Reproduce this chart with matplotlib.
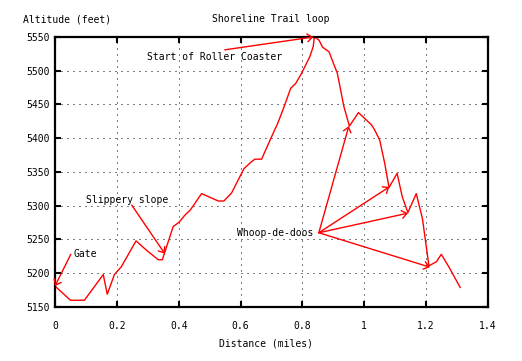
import matplotlib
matplotlib.use('Agg')
import matplotlib.pyplot as plt

# trail profile
dist = [0.000, 0.050, 0.095, 0.156, 0.169, 0.192, 0.215, 0.262, 0.296, 0.334,
        0.347, 0.382, 0.402, 0.420, 0.438, 0.474, 0.528, 0.546, 0.571, 0.611,
        0.630, 0.646, 0.668, 0.698, 0.720, 0.741, 0.762, 0.778, 0.797, 0.824,
        0.835, 0.838, 0.841, 0.854, 0.865, 0.886, 0.913, 0.934, 0.952, 0.981,
        1.002, 1.023, 1.034, 1.050, 1.066, 1.080, 1.106, 1.123, 1.141, 1.168,
        1.188, 1.209, 1.233, 1.249, 1.274, 1.310]
alt = [5181, 5160, 5160, 5198, 5169, 5198, 5210, 5248, 5234, 5220,
       5220, 5269, 5276, 5286, 5294, 5318, 5307, 5307, 5319, 5355,
       5363, 5369, 5369, 5400, 5422, 5447, 5474, 5481, 5496, 5521,
       5536, 5548, 5550, 5545, 5535, 5528, 5496, 5447, 5418, 5438,
       5429, 5420, 5412, 5397, 5363, 5327, 5348, 5313, 5290, 5318,
       5281, 5211, 5217, 5228, 5209, 5179]

xticks = [0, 0.2, 0.4, 0.6, 0.8, 1.0, 1.2, 1.4]
xlabels = ['0', '0.2', '0.4', '0.6', '0.8', '1', '1.2', '1.4']
yticks = [5150, 5200, 5250, 5300, 5350, 5400, 5450, 5500, 5550]

# labels: text, position, alignment
labels = [('Gate', 0.061, 5228, 'left'),
          ('Slippery slope', 0.099, 5308, 'left'),
          ('Start of Roller Coaster', 0.297, 5520, 'left'),
          ('Whoop-de-doos', 0.587, 5260, 'left')]

# arrows: (start, end)
arrows = [((0.051, 5228), (0.0, 5181)),
          ((0.248, 5301), (0.355, 5229)),
          ((0.549, 5531), (0.835, 5550)),
          ((0.853, 5260), (0.950, 5418)),
          ((0.853, 5260), (1.081, 5328)),
          ((0.853, 5260), (1.141, 5289)),
          ((0.853, 5260), (1.212, 5209))]

plt.rcParams['font.family'] = ['DejaVu Sans Mono']
fs = 7

fig = plt.figure(figsize=(5.22, 3.61), dpi=100)
W, H = 522, 361
ax = fig.add_axes([55 / W, 1 - 307 / H, (488 - 55) / W, (307 - 37) / H])

ax.plot(dist, alt, color='red', lw=1)

for (x0, y0), (x1, y1) in arrows:
    ax.annotate('', xy=(x1, y1), xytext=(x0, y0),
                arrowprops=dict(arrowstyle='->,head_length=0.35,head_width=0.28',
                                color='red', lw=1, shrinkA=0, shrinkB=0,
                                mutation_scale=10))

for txt, x, y, ha in labels:
    ax.text(x, y, txt, ha=ha, va='center', fontsize=fs, color='black')

ax.set_xlim(0, 1.4)
ax.set_ylim(5150, 5550)
ax.set_xticks(xticks)
ax.set_xticklabels(xlabels)
ax.set_yticks(yticks)
ax.grid(True, color='black', lw=0.72, ls=(0, (1, 5)))
ax.tick_params(direction='in', length=4, width=1.5, top=True, right=True,
               labelsize=fs)
ax.tick_params(axis='x', pad=10)
ax.tick_params(axis='y', pad=4)
for s in ax.spines.values():
    s.set_linewidth(1.6)

fig.text(271 / W, 1 - 19 / H, 'Shoreline Trail loop', ha='center', va='center', fontsize=fs)
fig.text(23 / W, 1 - 19 / H, 'Altitude (feet)', ha='left', va='center', fontsize=fs)
fig.text(266 / W, 1 - 344 / H, 'Distance (miles)', ha='center', va='center', fontsize=fs)

plt.savefig('out.png', dpi=100)
